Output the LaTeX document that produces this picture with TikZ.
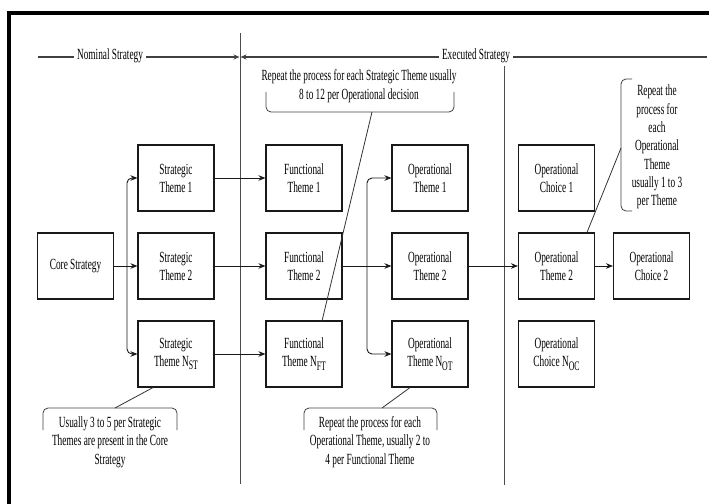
\documentclass[tikz,border=0pt]{standalone}
\usepackage{fontspec}
\setmainfont{Liberation Serif}[FakeStretch=0.6]
\usetikzlibrary{arrows.meta}
\newcommand{\sbs}[1]{\raisebox{-0.22em}{\fontsize{13}{14}\selectfont #1}}
\begin{document}
\begin{tikzpicture}[x=1pt,y=-1pt,
  box/.style={draw=black!90, line width=1.1pt, minimum width=76pt, minimum height=66pt, inner sep=0pt, align=center, font=\fontsize{15.5}{18}\selectfont, text=black},
  arr/.style={-{Stealth[length=7pt,width=5.5pt]}, line width=0.9pt, draw=black!90},
  txt/.style={align=center, font=\fontsize{15.5}{18.5}\selectfont, inner sep=0pt, text=black},
  call/.style={line width=0.8pt, draw=black!75, rounded corners=5pt},
  lead/.style={line width=0.8pt, draw=black!80},
  hdr/.style={line width=1.1pt, draw=black!75},
  sep/.style={line width=0.8pt, draw=black!70},
]
\useasboundingbox (0,0) rectangle (709,503);
% frame
\draw[line width=3.5pt] (9,505) -- (9,13) -- (712,13);

% separators
\coordinate (v1t) at (240,33); \coordinate (v1b) at (240,484);
\coordinate (v2t) at (504,66); \coordinate (v2b) at (504,485);
\draw[sep] (v1t) -- (v1b);
\draw[sep] (v2t) -- (v2b);

% header
\coordinate (nomL) at (38,57); \coordinate (midL) at (239.5,57);
\coordinate (exeR) at (707,57); \coordinate (midR) at (240.5,57);
\draw[hdr,-{Stealth[length=6pt,width=5pt]}] (nomL) -- (midL);
\draw[hdr,-{Stealth[length=6pt,width=5pt]}] (exeR) -- (midR);
\node[txt, fill=white, inner xsep=3pt, inner ysep=2pt] (nom) at (110,56) {Nominal Strategy};
\node[txt, fill=white, inner xsep=3pt, inner ysep=2pt] (exe) at (476,56) {Executed Strategy};

% boxes
\node[box] (core) at (75.5,266) {Core Strategy};
\node[box] (st1) at (176,178) {Strategic\\Theme 1};
\node[box] (st2) at (176,266) {Strategic\\Theme 2};
\node[box] (stn) at (176,354) {Strategic\\Theme N\sbs{ST}};
\node[box] (ft1) at (304,178) {Functional\\Theme 1};
\node[box] (ft2) at (304,266) {Functional\\Theme 2};
\node[box] (ftn) at (304,354) {Functional\\Theme N\sbs{FT}};
\node[box] (ot1) at (430,178) {Operational\\Theme 1};
\node[box] (ot2) at (430,266) {Operational\\Theme 2};
\node[box] (otn) at (430,354) {Operational\\Theme N\sbs{OT}};
\node[box] (oc1) at (556.5,178) {Operational\\Choice 1};
\node[box] (otb) at (556.5,266) {Operational\\Theme 2};
\node[box] (ocn) at (556.5,354) {Operational\\Choice N\sbs{OC}};
\node[box] (oc2) at (651.5,266) {Operational\\Choice 2};

% connectors
\draw[arr] (core) -- (st2);
\coordinate (b1) at (127,266);
\draw[arr, rounded corners=5pt] (b1) |- (st1);
\draw[arr, rounded corners=5pt] (b1) |- (stn);
\draw[arr] (st1) -- (ft1);
\draw[arr] (st2) -- (ft2);
\draw[arr] (stn) -- (ftn);
\draw[arr] (ft2) -- (ot2);
\coordinate (b2) at (367,266);
\draw[arr, rounded corners=5pt] (b2) |- (ot1);
\draw[arr, rounded corners=5pt] (b2) |- (otn);
\draw[arr] (ot2) -- (otb);
\draw[arr] (otb) -- (oc2);

% callout top
\node[txt] (ctop) at (359,86) {Repeat the process for each Strategic Theme usually\\8 to 12 per Operational decision};
\coordinate (t1) at (266,92); \coordinate (t2) at (266,112); \coordinate (t3) at (454,112); \coordinate (t4) at (454,92);
\draw[call] (t1) -- (t2) -- (t3) -- (t4);
\coordinate (tl) at (372,112);
\draw[lead] (tl) -- (322,321);

% callout bottom left
\node[txt] (cbl) at (110,442) {Usually 3 to 5 per Strategic\\Themes are present in the Core\\Strategy};
\coordinate (l1) at (43,430); \coordinate (l2) at (43,408); \coordinate (l3) at (177,408); \coordinate (l4) at (177,430);
\draw[call] (l1) -- (l2) -- (l3) -- (l4);
\coordinate (ll) at (115,408);
\draw[lead] (ll) -- (stn.south -| 153,0);

% callout bottom middle
\node[txt] (cbm) at (370,442) {Repeat the process for each\\Operational Theme, usually 2 to\\4 per Functional Theme};
\coordinate (m1) at (304,430); \coordinate (m2) at (304,408); \coordinate (m3) at (437,408); \coordinate (m4) at (437,430);
\draw[call] (m1) -- (m2) -- (m3) -- (m4);
\coordinate (ml) at (382,408);
\draw[lead] (ml) -- (otn.south -| 410,0);

% callout right
\node[txt, font=\fontsize{15.5}{18.3}\selectfont] (crt) at (657,147) {Repeat the\\process for\\each\\Operational\\Theme\\usually 1 to 3\\per Theme};
\coordinate (r1) at (632,79); \coordinate (r2) at (621,79); \coordinate (r3) at (621,211); \coordinate (r4) at (632,211);
\draw[call] (r1) -- (r2) -- (r3) -- (r4);
\coordinate (rl) at (621,148);
\draw[lead] (rl) -- (otb.north -| 587,0);
\end{tikzpicture}
\end{document}
